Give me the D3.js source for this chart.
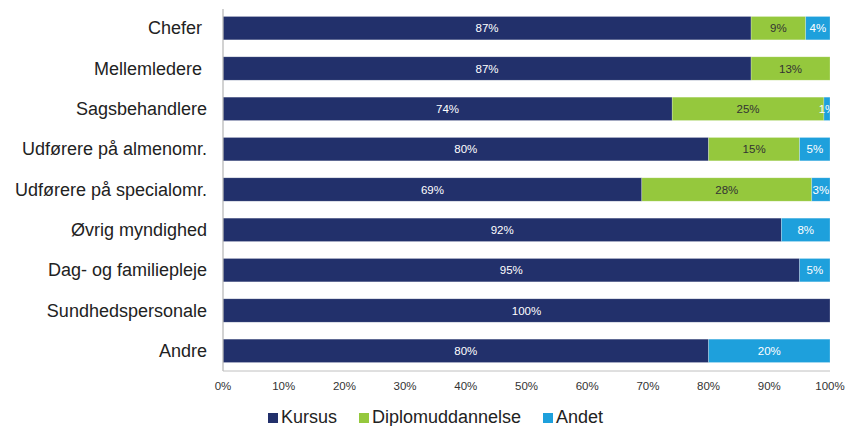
<!DOCTYPE html>
<html>
<head>
<meta charset="utf-8">
<script src="https://cdn.jsdelivr.net/npm/d3@7"></script>
<style>
  body { margin: 0; background: #fff; }
  svg { font-family: "Liberation Sans", Arial, sans-serif; display: block; }
  .cat { white-space: pre; }
</style>
</head>
<body>
<svg id="chart"></svg>
<script>
const categories = ["Chefer ", "Mellemledere ", "Sagsbehandlere", "Udførere på almenomr.",
    "Udførere på specialomr.", "Øvrig myndighed", "Dag- og familiepleje", "Sundhedspersonale", "Andre"];
const seriesNames = ["Kursus", "Diplomuddannelse", "Andet"];
const kursus = [87, 87, 74, 80, 69, 92, 95, 100, 80];
const diplom = [9, 13, 25, 15, 28, 0, 0, 0, 0];
const andet = [4, 0, 1, 5, 3, 8, 5, 0, 20];
const ticks = [0, 10, 20, 30, 40, 50, 60, 70, 80, 90, 100];

const colors = ["#22306b", "#95c83d", "#1ea0dc"];
const labelColors = ["#ffffff", "#333333", "#ffffff"];

const width = 853, height = 426;
const margin = {top: 8, right: 23, bottom: 55, left: 223};
const innerWidth = width - margin.left - margin.right;
const innerHeight = height - margin.top - margin.bottom;

const rows = categories.map((c, i) => ({cat: c, Kursus: kursus[i], Diplomuddannelse: diplom[i], Andet: andet[i]}));
const stacked = d3.stack().keys(seriesNames)(rows);

const svg = d3.select('#chart').attr('width', width).attr('height', height);

const xScale = d3.scaleLinear().domain([0, 100]).range([0, innerWidth]);
const yScale = d3.scaleBand().domain(categories).range([0, innerHeight]).paddingInner(0.42).paddingOuter(0.21);

const g = svg.append('g').attr('transform', `translate(${margin.left}, ${margin.top})`);

// bars + value labels
stacked.forEach((layer, si) => {
    const grp = g.append('g');
    const segs = layer.filter(d => d[1] - d[0] > 0);
    grp.selectAll('rect')
        .data(segs)
        .enter()
        .append('rect')
        .attr('x', d => xScale(d[0]))
        .attr('width', d => xScale(d[1]) - xScale(d[0]))
        .attr('y', d => yScale(d.data.cat))
        .attr('height', yScale.bandwidth())
        .attr('fill', colors[si])
        .attr('stroke', '#ffffff')
        .attr('stroke-opacity', 0.4)
        .attr('stroke-width', 0.6);

    grp.selectAll('text')
        .data(segs)
        .enter()
        .append('text')
        .attr('x', d => xScale((d[0] + d[1]) / 2))
        .attr('y', d => yScale(d.data.cat) + yScale.bandwidth() / 2)
        .attr('dy', '0.35em')
        .attr('text-anchor', 'middle')
        .attr('font-size', 11.5)
        .attr('fill', labelColors[si])
        .text(d => `${d[1] - d[0]}%`);
});

// axis lines
g.append('line')
    .attr('x1', 0).attr('x2', 0)
    .attr('y1', 1).attr('y2', innerHeight)
    .attr('stroke', '#b4b4b4').attr('stroke-width', 1.2);
g.append('line')
    .attr('x1', 0).attr('x2', innerWidth)
    .attr('y1', innerHeight).attr('y2', innerHeight)
    .attr('stroke', '#c0c0c0').attr('stroke-width', 1);

// x tick labels
g.selectAll('.xtick')
    .data(ticks)
    .enter()
    .append('text')
    .attr('class', 'xtick')
    .attr('x', d => xScale(d))
    .attr('y', innerHeight + 19)
    .attr('text-anchor', 'middle')
    .attr('font-size', 11.5)
    .attr('fill', '#333')
    .text(d => d + '%');

// category labels
g.selectAll('.cat')
    .data(categories)
    .enter()
    .append('text')
    .attr('class', 'cat')
    .attr('x', -16)
    .attr('y', d => yScale(d) + yScale.bandwidth() / 2)
    .attr('dy', '0.35em')
    .attr('text-anchor', 'end')
    .attr('font-size', 18)
    .attr('fill', '#222')
    .text(d => d);

// legend
const legendX = [268, 359, 543];
const legend = svg.append('g');
seriesNames.forEach((name, i) => {
    legend.append('rect')
        .attr('x', legendX[i]).attr('y', 413)
        .attr('width', 10).attr('height', 10)
        .attr('fill', colors[i]);
    legend.append('text')
        .attr('x', legendX[i] + 13).attr('y', 423)
        .attr('font-size', 18)
        .attr('fill', '#222')
        .text(name);
});
</script>
</body>
</html>
